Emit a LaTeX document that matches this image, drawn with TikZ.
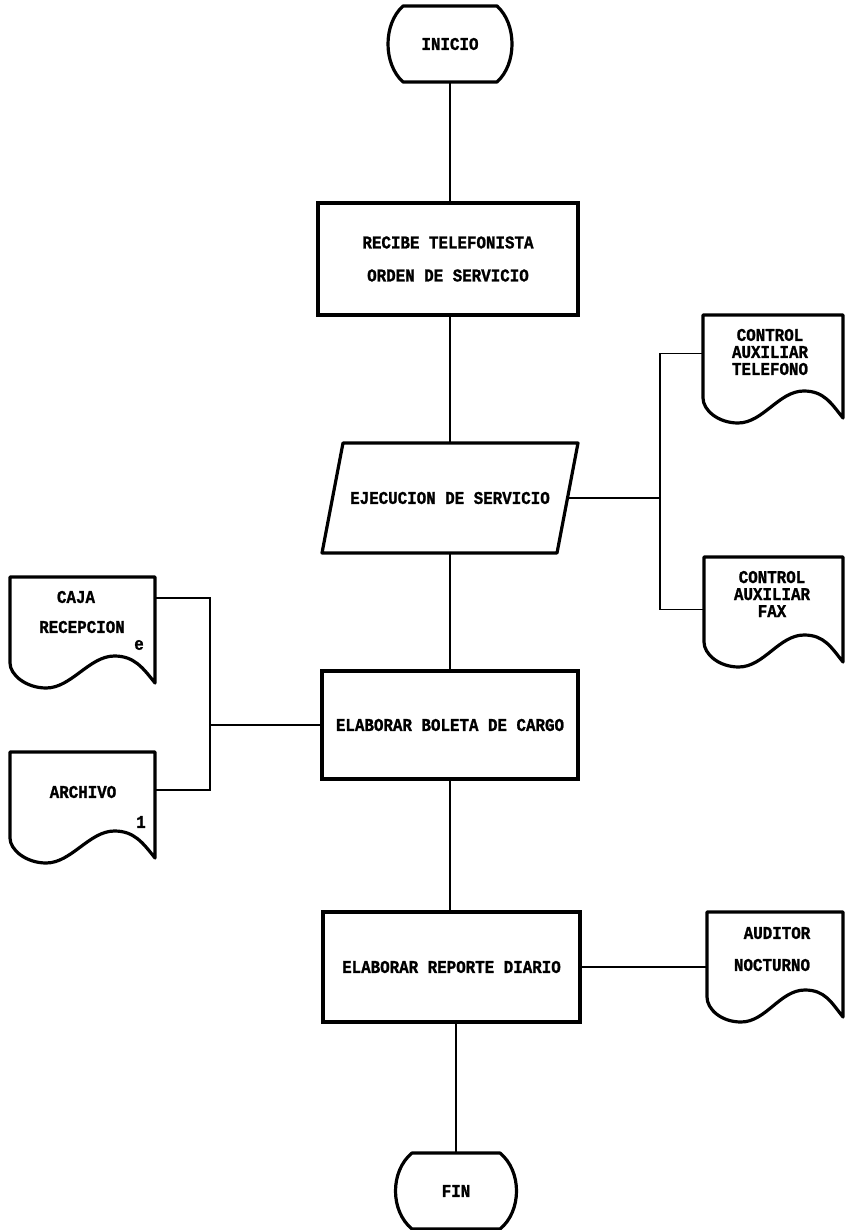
\documentclass[tikz,border=0pt]{standalone}
\usepackage{fontspec}
\newfontfamily\dotfont{Liberation Mono}[FakeStretch=0.88, BoldFeatures={FakeBold=1.2}]
\usetikzlibrary{calc}
\newcommand\docshape[1]{%
  \draw[outline] (#1.north west) -- (#1.north east) -- ($(#1.south east)+(0,20)$)
    .. controls +(-12,-15) and +(20,0) .. ($(#1.south west)!0.72!(#1.south east)+(0,-7)$)
    .. controls +(-25,0) and +(25,0) .. ($(#1.south west)!0.25!(#1.south east)+(0,25)$)
    .. controls +(-20,0) and +(0,12) .. (#1.south west) -- cycle;}
\begin{document}
\begin{tikzpicture}[x=1pt,y=-1pt,
  lbl/.style={font=\dotfont\bfseries\fontsize{18}{17}\selectfont, inner sep=0pt, align=center},
  procbox/.style={draw, line width=3.2pt, inner sep=0pt, lbl},
  ghost/.style={inner sep=0pt, outer sep=0pt},
  outline/.style={line width=3.2pt, line join=round},
  conn/.style={line width=1.9pt}]
\useasboundingbox (0,0) rectangle (844,1230);
\fill[white] (0,0) rectangle (844,1230);

% main column
\node[ghost, lbl, minimum width=94pt, minimum height=76pt] (inicio) at (450,44) {INICIO};
\draw[outline] (inicio.north west) -- (inicio.north east)
  .. controls +(20,18) and +(20,-18) .. (inicio.south east) -- (inicio.south west)
  .. controls +(-20,-18) and +(-20,18) .. (inicio.north west) -- cycle;

\node[procbox, minimum width=260pt, minimum height=112pt] (recibe) at (448,259)
  {RECIBE TELEFONISTA\\[16pt]ORDEN DE SERVICIO};

\node[ghost, lbl, minimum width=235pt, minimum height=110pt] (ejec) at (450,498) {EJECUCION DE SERVICIO};
\draw[outline] ($(ejec.north west)+(10.5,0)$) -- ($(ejec.north east)+(10.5,0)$)
  -- ($(ejec.south east)+(-10.5,0)$) -- ($(ejec.south west)+(-10.5,0)$) -- cycle;

\node[procbox, minimum width=256pt, minimum height=108pt] (boleta) at (450,725) {ELABORAR BOLETA DE CARGO};
\node[procbox, minimum width=257pt, minimum height=110pt] (reporte) at (451.5,967) {ELABORAR REPORTE DIARIO};

\node[ghost, lbl, minimum width=88pt, minimum height=76pt] (fin) at (456,1191) {FIN};
\draw[outline] (fin.north west) -- (fin.north east)
  .. controls +(22,18) and +(22,-18) .. (fin.south east) -- (fin.south west)
  .. controls +(-22,-18) and +(-22,18) .. (fin.north west) -- cycle;

% documents
\node[ghost, minimum width=140pt, minimum height=83pt] (tel) at (773,356.5) {};
\docshape{tel}
\node[lbl] (teltxt) at (770,352) {CONTROL\\AUXILIAR\\TELEFONO};

\node[ghost, minimum width=139pt, minimum height=85pt] (fax) at (773.5,599.5) {};
\docshape{fax}
\node[lbl] (faxtxt) at (772,594) {CONTROL\\AUXILIAR\\FAX};

\node[ghost, minimum width=145pt, minimum height=86pt] (caja) at (82.5,620) {};
\docshape{caja}
\node[lbl] (cajatxt1) at (76,597) {CAJA};
\node[lbl] (cajatxt2) at (82,627) {RECEPCION};
\node[lbl] (cajae) at (139,645) {e};

\node[ghost, minimum width=145pt, minimum height=86pt] (archivo) at (82.5,795) {};
\docshape{archivo}
\node[lbl] (archtxt) at (83,792) {ARCHIVO};
\node[lbl] (arch1) at (141,822) {1};

\node[ghost, minimum width=136pt, minimum height=85pt] (auditor) at (775,954.5) {};
\docshape{auditor}
\node[lbl] (audtxt1) at (777,933) {AUDITOR};
\node[lbl] (audtxt2) at (772,965) {NOCTURNO};

% connectors
\draw[conn] (inicio.south) -- (inicio.south |- recibe.north);
\draw[conn] (ejec.north |- recibe.south) -- (ejec.north);
\draw[conn] (ejec.south) -- (boleta.north);
\draw[conn] (boleta.south) -- (boleta.south |- reporte.north);
\draw[conn] (fin.north |- reporte.south) -- (fin.north);

\coordinate (rbus) at (660,498);
\draw[conn] (ejec.east) -- (rbus);
\draw[conn] ($(tel.west)+(0,-3)$) -| (rbus) |- ($(fax.west)+(0,10)$);

\coordinate (lbus) at (210,725);
\draw[conn] (boleta.west) -- (lbus);
\draw[conn] ($(caja.east)+(0,-22)$) -| (lbus) |- ($(archivo.east)+(0,-5)$);

\draw[conn] (reporte.east) -- (reporte.east -| auditor.west);
\end{tikzpicture}
\end{document}
